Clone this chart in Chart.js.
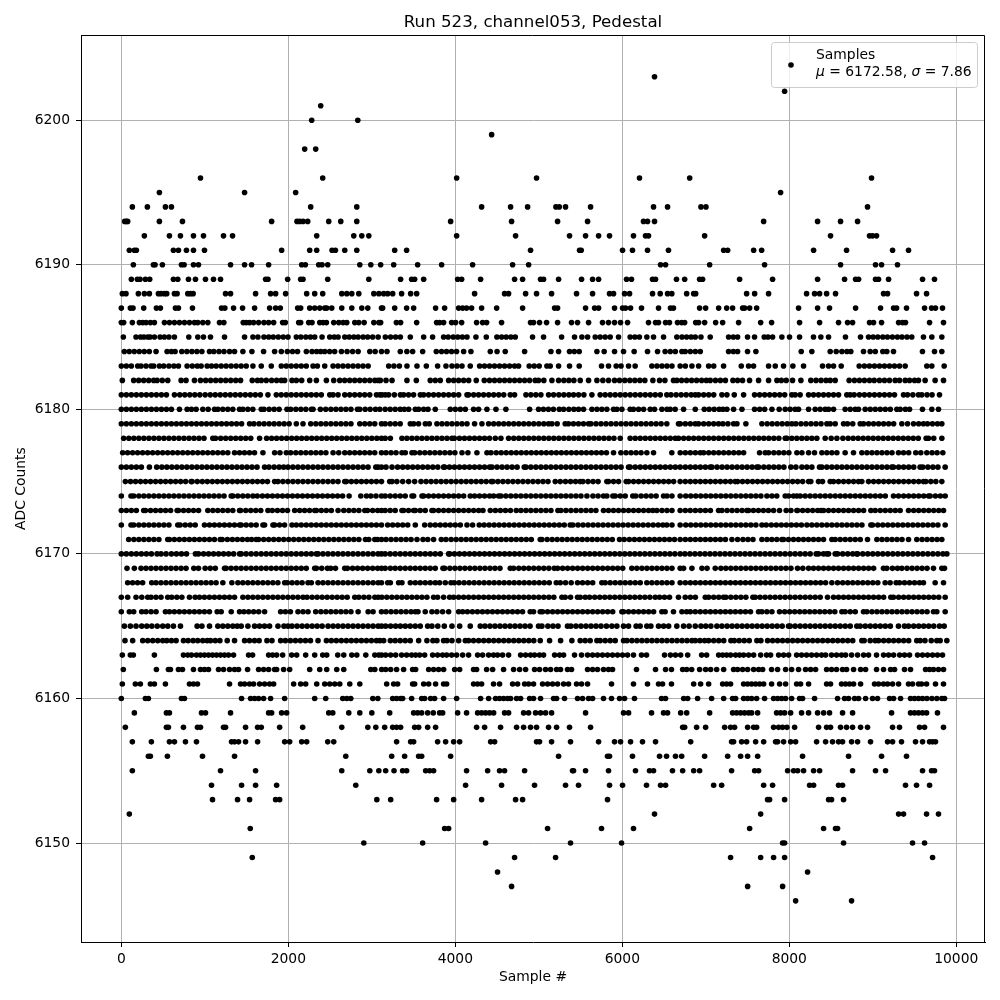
<!DOCTYPE html>
<html><head><meta charset="utf-8">
<style>html,body{margin:0;padding:0;background:#fff}canvas{display:block}</style>
<script src="https://cdn.jsdelivr.net/npm/chart.js@4/dist/chart.umd.min.js"></script>
</head><body><div style="width:1000px;height:1000px"><canvas id="c" width="1000" height="1000"></canvas></div>
<script>
const chartTitle="Run 523, channel053, Pedestal";
const xLabel="Sample #";
const yLabel="ADC Counts";
const xTicks=[0,2000,4000,6000,8000,10000];
const yTicks=[6150,6160,6170,6180,6190,6200];
const L6146=[8076,8746];
const L6147=[4674,7501,7920];
const L6148=[4506,8219];
const L6149=[1568,4710,5201,7297,7657,7812,7944,9716];
const L6150=[2904,3609,4363,5380,5991,7920,7944,8650,9476,9620];
const L6151=[1544,3872,3920,5105,5751,6134,7525,8411,8554,8578];
const L6152=[96,6386,7657,9309,9368,9644,9787];
const L6153=[1092,1392,1536,1848,1896,3060,3226,3776,3980,4315,4722,4806,5823,7740,7764,7944,8471,8506,8650];
const L6154=[1080,1440,1608,1860,2808,4123,4554,4949,5320,5476,5847,6003,6290,6458,6518,7094,7190,7693,7800,8243,8291,8590,8638,9392,9524,9680];
const L6155=[132,1188,1608,2640,2976,3084,3166,3266,3369,3417,3645,3693,3740,4135,4387,4530,4590,4830,5404,5416,5560,5835,6158,6326,6374,6601,6723,6855,6926,7309,7585,7633,7980,8052,8100,8171,8291,8363,8758,9033,9153,9596,9704,9739];
const L6156=[324,348,552,972,1356,2688,3238,3393,3561,3597,3944,5237,5823,5847,6122,6446,6530,6637,6711,6986,7262,7417,7501,7621,8159,8710,9105,9404];
const L6157=[132,360,576,636,768,900,1320,1356,1404,1488,1632,1956,2016,2160,2220,2472,2544,3297,3465,3501,3788,3884,3980,4052,4423,4471,4973,5009,5153,5380,5716,5907,5979,6099,6242,6398,6819,7309,7333,7429,7489,7597,7693,7836,7860,7932,8016,8076,8327,8435,8518,8590,8638,8746,8818,8973,9177,9237,9344,9512,9596,9680,9716,9751];
const L6158=[48,540,564,744,912,948,1224,1248,1488,1632,1676,1896,2172,2640,2952,3048,3154,3250,3297,3345,3513,3561,3669,3764,4255,4351,4542,4734,4818,4901,4973,5117,5213,5368,5620,6723,6747,6890,6998,7226,7297,7345,7501,7573,7609,7812,7872,7920,7972,8064,8351,8447,8494,8614,8686,8758,8854,8937,9237,9320,9560,9620,9847];
const L6159=[156,540,576,960,1008,1308,1764,1800,1920,1980,2484,2532,2724,2856,3000,3214,3501,3549,3597,3669,3736,3812,3848,4028,4135,4267,4315,4363,4411,4459,4590,4638,4818,4878,4961,5021,5081,5153,5560,6015,6075,6350,6494,6542,6699,6771,7046,7321,7369,7417,7465,7513,7549,7621,7848,7896,7944,8016,8147,8231,8339,8411,8482,8638,8758,9225,9452,9500,9548,9596,9644,9775];
const L6160=[0,288,324,720,756,1440,1548,1596,1644,1704,1788,1956,2316,2448,2652,2700,2748,3012,3072,3250,3297,3345,3369,3477,3597,3633,3704,3752,3860,4016,4303,4399,4482,4530,4578,4626,4662,4734,4782,4890,4937,5021,5177,5213,5308,5464,5524,5596,5644,5775,5871,5967,6027,6146,6470,6518,6735,6783,6902,7070,7214,7321,7357,7453,7501,7549,7609,7704,7812,7860,7908,7956,8028,8123,8159,8303,8578,8662,8710,8782,8830,8914,8997,9057,9201,9249,9333,9452,9500,9548,9596,9648,9708,9767,9827,9859];
const L6161=[12,168,228,348,396,528,816,864,912,1296,1428,1476,1536,1584,1656,1716,1776,1824,2064,2148,2208,2340,2436,2496,2556,2616,2736,2856,3178,3262,3309,3489,3513,3621,3681,3764,3860,3896,4219,4267,4315,4458,4530,4686,4746,4830,4878,4937,5045,5105,5165,5225,5297,5356,5452,5512,5584,5871,6134,6302,6434,6482,6589,6855,6938,7034,7202,7250,7297,7453,7501,7549,7597,7645,7693,7788,7884,7956,8088,8135,8231,8447,8494,8626,8674,8722,8770,8854,9021,9069,9129,9177,9237,9309,9428,9476,9548,9584,9644,9751,9847];
const L6162=[24,420,564,588,684,732,864,948,996,1044,1164,1224,1296,1356,1404,1512,1644,1704,1764,1836,1860,1944,2016,2256,2376,2460,2580,2664,2988,3036,3118,3166,3226,3297,3381,3489,3525,3681,3740,3800,3860,3992,4052,4219,4255,4375,4447,4578,4698,4770,4842,4949,5009,5081,5141,5213,5260,5344,5392,5584,5644,5703,5775,5835,5883,6170,6398,6518,6589,6723,6771,6831,6926,6998,7058,7130,7214,7333,7381,7441,7501,7573,7633,7681,7788,7860,7956,8028,8111,8195,8255,8315,8447,8506,8566,8638,8686,8770,8854,8914,9045,9129,9213,9261,9380,9452,9632,9680,9727,9787,9847];
const L6163=[12,108,144,396,744,796,840,900,948,996,1044,1092,1140,1188,1236,1284,1344,1524,1572,1764,1812,1860,1932,2040,2100,2208,2316,2412,2460,2592,2664,2760,2820,2928,3036,3084,3118,3166,3226,3286,3357,3417,3477,3525,3573,3633,3728,3788,3848,3896,3956,4016,4088,4159,4267,4327,4399,4458,4506,4566,4638,4782,4842,4901,4949,5009,5057,5189,5249,5297,5428,5512,5584,5644,5703,5763,5823,5883,5943,6003,6063,6134,6230,6290,6506,6577,6637,6699,6783,6950,7010,7154,7202,7250,7297,7357,7405,7453,7513,7573,7657,7728,7776,7872,7932,7992,8088,8147,8207,8267,8327,8387,8435,8506,8566,8626,8674,8746,8818,8890,8949,9045,9129,9189,9249,9321,9380,9440,9536,9596,9656,9716,9775,9835];
const L6164=[44,136,256,316,376,436,496,544,600,656,744,800,860,915,975,1028,1068,1125,1180,1268,1356,1476,1535,1595,1650,1744,1804,1908,1965,2025,2085,2145,2205,2265,2356,2456,2515,2575,2635,2695,2755,2815,2875,2935,2995,3056,3096,3142,3222,3280,3340,3400,3460,3561,3660,3732,3780,3860,3900,3960,4040,4120,4159,4218,4280,4340,4400,4460,4520,4580,4640,4700,4760,4820,4880,4940,5017,5129,5261,5396,5496,5555,5615,5696,5735,5795,5855,5915,6015,6055,6115,6175,6235,6295,6355,6415,6475,6535,6595,6655,6715,6775,6834,6874,6930,6986,7034,7095,7155,7215,7301,7341,7400,7460,7520,7612,7660,7740,7800,7860,7920,7980,8040,8100,8160,8220,8280,8340,8400,8460,8520,8580,8640,8700,8760,8869,8897,8969,9029,9069,9130,9190,9250,9310,9370,9430,9527,9567,9625,9700,9767,9807,9887];
const L6165=[36,108,176,244,305,365,430,496,556,624,708,908,965,1056,1156,1215,1275,1335,1388,1436,1516,1596,1655,1715,1775,1876,1948,1996,2044,2105,2165,2225,2285,2345,2405,2476,2536,2595,2655,2715,2775,2835,2895,2955,3015,3075,3116,3165,3225,3285,3342,3401,3460,3520,3580,3669,3720,3790,3868,3960,4052,4179,4299,4355,4415,4475,4535,4595,4655,4715,4775,4835,4895,4997,5037,5109,5170,5230,5344,5384,5445,5505,5565,5625,5685,5745,5810,5875,5935,6015,6075,6166,6214,6294,6342,6434,6495,6555,6653,6734,6800,6874,6942,7000,7061,7133,7193,7255,7315,7375,7435,7495,7555,7615,7675,7735,7795,7855,7915,7991,8011,8070,8130,8190,8250,8310,8370,8430,8490,8550,8610,8670,8730,8809,8849,8910,8970,9030,9090,9150,9210,9308,9380,9428,9490,9550,9610,9670,9730,9799,9855];
const L6166=[0,96,148,244,296,356,416,528,576,635,695,755,815,875,935,995,1055,1148,1196,1316,1416,1468,1525,1585,1645,1716,1908,1965,2025,2116,2176,2236,2328,2390,2450,2510,2570,2630,2690,2750,2836,2956,3015,3116,3170,3230,3290,3350,3410,3470,3521,3553,3640,3720,3780,3848,3920,4040,4088,4145,4205,4265,4325,4385,4445,4505,4565,4625,4685,4745,4805,4897,4937,5017,5045,5105,5165,5225,5285,5345,5405,5465,5525,5585,5645,5705,5765,5825,5885,5995,6015,6075,6135,6195,6255,6315,6375,6474,6513,6613,6714,6770,6814,6874,6934,6995,7055,7115,7175,7235,7295,7355,7415,7475,7535,7632,7672,7732,7792,7883,7945,8005,8065,8125,8185,8245,8305,8365,8425,8485,8545,8630,8669,8730,8790,8889,8929,8990,9050,9110,9170,9230,9290,9350,9410,9470,9530,9590,9650,9727,9767,9867];
const L6167=[0,76,176,245,316,356,415,475,556,604,665,725,816,884,936,995,1055,1115,1175,1235,1295,1356,1456,1516,1575,1635,1695,1755,1815,1875,1935,1995,2055,2115,2176,2224,2285,2345,2405,2465,2525,2585,2645,2705,2796,2844,2905,2965,3036,3076,3120,3180,3240,3300,3360,3420,3480,3540,3600,3660,3740,3788,3860,3932,3980,4040,4100,4160,4220,4280,4340,4400,4460,4520,4580,4640,4700,4760,4820,4880,4940,5000,5060,5120,5180,5277,5316,5380,5464,5496,5556,5608,5670,5730,5790,5850,5910,5970,6030,6090,6150,6210,6270,6330,6394,6446,6505,6565,6673,6754,6815,6875,6994,7034,7095,7155,7213,7241,7300,7360,7420,7480,7564,7592,7650,7710,7770,7830,7890,7950,8010,8070,8130,8190,8250,8310,8370,8458,8530,8590,8650,8710,8770,8830,8890,8950,9010,9070,9130,9216,9248,9310,9370,9430,9490,9550,9610,9670,9730,9790,9867];
const L6168=[76,135,195,255,364,416,475,535,595,655,715,775,835,895,955,1015,1075,1135,1216,1324,1396,1455,1515,1575,1635,1695,1755,1815,1875,1956,1988,2045,2105,2165,2236,2276,2356,2415,2475,2535,2595,2655,2715,2775,2835,2895,2955,3015,3075,3116,3190,3222,3321,3361,3461,3521,3580,3640,3700,3760,3812,3880,3948,3988,4045,4105,4165,4225,4285,4345,4405,4465,4525,4585,4645,4705,4765,4825,4885,4945,5005,5065,5125,5209,5257,5320,5388,5464,5524,5585,5645,5755,5795,5855,5915,5975,6035,6095,6155,6215,6294,6354,6415,6475,6535,6595,6693,6755,6815,6875,6935,6995,7055,7115,7175,7235,7295,7355,7415,7475,7535,7595,7655,7715,7775,7835,7895,7955,8015,8075,8135,8195,8255,8315,8375,8435,8510,8578,8640,8700,8760,8820,8880,8940,9000,9060,9148,9208,9280,9320,9380,9440,9500,9560,9607,9747,9847];
const L6169=[68,156,236,295,355,415,475,535,595,655,715,775,868,924,1004,1065,1125,1236,1256,1315,1375,1435,1495,1555,1615,1675,1735,1795,1855,1915,1975,2035,2095,2155,2215,2316,2336,2400,2468,2508,2565,2676,2708,2770,2830,2890,2950,3010,3070,3116,3160,3222,3280,3340,3400,3460,3520,3580,3640,3700,3760,3852,3872,3935,3995,4055,4115,4175,4235,4295,4355,4415,4475,4535,4658,4698,4760,4820,4880,4940,5000,5060,5120,5185,5225,5285,5345,5405,5465,5525,5585,5645,5705,5765,5825,5885,5945,6005,6114,6174,6235,6295,6355,6415,6475,6535,6595,6693,6734,6834,6954,7015,7113,7181,7240,7300,7360,7420,7480,7540,7600,7660,7720,7780,7840,7900,7960,8020,8099,8162,8231,8290,8350,8410,8470,8530,8590,8650,8710,8770,8830,8890,8950,9010,9128,9168,9235,9296,9348,9410,9470,9530,9590,9650,9727,9827,9859];
const L6170=[0,60,120,180,240,300,360,428,476,536,600,660,720,780,888,924,985,1045,1105,1165,1225,1285,1345,1416,1436,1495,1555,1615,1675,1735,1795,1855,1915,1975,2035,2095,2155,2215,2275,2336,2356,2415,2475,2535,2595,2655,2715,2775,2835,2895,2955,3015,3075,3116,3160,3220,3280,3340,3400,3460,3520,3580,3640,3700,3760,3820,3920,3932,3990,4050,4110,4170,4230,4290,4350,4410,4470,4530,4590,4650,4710,4770,4830,4890,4950,5010,5070,5130,5190,5250,5310,5370,5430,5490,5550,5610,5670,5730,5790,5850,5910,5970,6030,6090,6150,6210,6270,6330,6390,6450,6510,6570,6630,6693,6750,6810,6870,6930,6990,7050,7110,7170,7230,7290,7350,7410,7470,7530,7590,7650,7710,7770,7830,7890,7950,8010,8070,8130,8190,8250,8322,8350,8410,8450,8470,8550,8578,8640,8700,8760,8809,8817,8880,8940,9000,9060,9120,9180,9240,9300,9360,9420,9480,9540,9600,9660,9720,9780,9840,9887];
const L6171=[88,150,210,270,330,390,450,556,576,635,695,755,815,875,935,995,1055,1115,1184,1208,1270,1330,1390,1450,1510,1560,1616,1644,1705,1765,1825,1885,1945,2005,2065,2125,2185,2245,2305,2365,2425,2485,2545,2605,2665,2725,2785,2845,2924,2964,3036,3068,3116,3170,3230,3290,3350,3410,3470,3541,3613,3670,3740,3832,3888,3950,4010,4070,4130,4190,4250,4310,4370,4430,4490,4550,4610,4670,4730,4790,4850,4910,5017,5037,5100,5160,5220,5280,5340,5400,5460,5520,5580,5640,5700,5760,5820,5880,5967,6023,6085,6145,6205,6265,6325,6385,6445,6505,6565,6625,6693,6755,6815,6875,6935,6995,7055,7115,7175,7235,7313,7381,7445,7505,7565,7672,7732,7790,7850,7911,7931,7990,8050,8110,8170,8230,8290,8350,8410,8510,8550,8610,8670,8730,8790,8850,8937,9049,9110,9170,9230,9290,9350,9428,9527,9590,9650,9710,9770,9827];
const L6172=[0,116,148,210,270,330,390,450,510,570,676,704,765,825,885,996,1056,1115,1175,1235,1295,1355,1416,1436,1495,1555,1615,1696,1716,1816,1836,1895,1955,2044,2096,2155,2215,2275,2335,2395,2455,2515,2575,2635,2695,2755,2815,2875,2935,2995,3055,3116,3190,3250,3310,3370,3430,3521,3633,3700,3760,3820,3880,3940,4000,4060,4140,4207,4287,4345,4405,4465,4525,4585,4645,4705,4765,4825,4885,4945,5005,5065,5125,5185,5245,5305,5376,5408,5470,5530,5590,5650,5710,5770,5830,5890,5950,6010,6070,6130,6190,6250,6310,6370,6430,6486,6533,6595,6693,6760,6820,6880,6940,7000,7060,7120,7180,7240,7300,7360,7420,7480,7540,7600,7672,7724,7785,7845,7905,7965,8025,8085,8145,8211,8270,8330,8390,8450,8510,8570,8630,8690,8750,8810,8870,8977,8997,9060,9120,9180,9240,9300,9360,9420,9480,9540,9600,9660,9720,9780,9867];
const L6173=[0,60,120,180,268,288,350,410,470,530,590,668,684,745,805,865,925,1036,1096,1155,1215,1275,1335,1416,1428,1490,1550,1610,1670,1756,1808,1870,1930,1990,2076,2136,2195,2255,2316,2336,2395,2455,2515,2596,2664,2725,2785,2845,2916,2948,3010,3070,3116,3160,3220,3280,3361,3381,3440,3501,3521,3580,3640,3720,3740,3800,3860,3920,3980,4040,4100,4160,4220,4280,4331,4419,4480,4540,4600,4660,4730,4786,4846,4905,4965,5025,5085,5145,5229,5265,5325,5385,5445,5505,5565,5625,5684,5775,5835,5895,5955,6015,6075,6135,6195,6255,6315,6366,6414,6475,6535,6595,6693,6755,6814,6875,6935,6995,7055,7153,7193,7255,7315,7375,7435,7493,7512,7570,7630,7690,7750,7812,7883,7963,8020,8091,8099,8160,8220,8280,8340,8382,8410,8470,8530,8590,8650,8710,8770,8830,8890,8977,9029,9090,9150,9210,9270,9328,9428,9490,9550,9610,9670,9730,9790,9847];
const L6174=[0,116,148,210,270,330,390,450,510,570,630,690,750,810,870,930,990,1050,1110,1170,1230,1316,1336,1395,1455,1515,1576,1628,1690,1750,1810,1870,1930,1990,2050,2110,2170,2230,2290,2350,2410,2470,2530,2590,2650,2728,2868,2936,2988,3050,3116,3160,3220,3280,3340,3400,3481,3501,3601,3621,3680,3740,3800,3860,3920,3980,4040,4100,4179,4231,4290,4350,4411,4459,4518,4546,4605,4665,4725,4785,4845,4905,4965,5025,5085,5145,5205,5265,5325,5385,5445,5505,5576,5648,5710,5775,5815,5887,5915,5975,6035,6126,6162,6225,6285,6345,6405,6494,6535,6595,6693,6760,6820,6880,6940,7000,7060,7120,7180,7240,7300,7360,7420,7480,7540,7600,7660,7732,7792,7850,7951,7991,8050,8091,8131,8190,8250,8310,8370,8430,8490,8550,8610,8670,8730,8790,8850,8910,8970,9030,9090,9150,9248,9308,9370,9430,9490,9550,9610,9667,9687,9750,9810,9867];
const L6175=[48,110,170,230,290,350,410,470,530,590,650,710,770,836,848,910,970,1030,1090,1150,1210,1270,1330,1390,1450,1510,1570,1630,1690,1750,1836,1876,1935,1995,2055,2115,2175,2235,2295,2355,2415,2475,2535,2595,2676,2696,2755,2815,2875,2935,2995,3055,3116,3214,3242,3300,3370,3441,3513,3589,3650,3710,3770,3830,3890,3950,4010,4070,4130,4190,4250,4310,4370,4431,4451,4510,4570,4630,4690,4750,4810,4870,4930,4990,5050,5110,5197,5257,5320,5380,5440,5496,5528,5590,5650,5710,5815,5835,5895,5955,6047,6075,6135,6195,6255,6315,6375,6435,6495,6555,6615,6693,6755,6815,6875,6935,6995,7055,7115,7175,7235,7295,7353,7381,7440,7500,7560,7620,7680,7740,7800,7860,7920,7980,8040,8100,8160,8231,8258,8350,8398,8490,8530,8590,8650,8710,8770,8829,8869,8949,9010,9070,9130,9190,9250,9310,9370,9430,9490,9550,9607,9635,9695,9755,9827];
const L6176=[0,60,120,180,240,336,424,485,545,605,665,725,785,845,905,965,1025,1085,1145,1205,1265,1325,1385,1445,1505,1565,1625,1716,1768,1830,1890,1944,1996,2055,2115,2175,2235,2295,2355,2415,2475,2535,2595,2655,2715,2775,2835,2895,2955,3048,3076,3116,3170,3242,3309,3370,3430,3490,3550,3610,3670,3730,3790,3860,3872,3930,3990,4050,4110,4170,4230,4290,4350,4411,4439,4500,4560,4620,4680,4740,4826,4846,4905,4965,5025,5085,5145,5205,5265,5325,5385,5445,5505,5565,5625,5685,5745,5805,5865,5925,5985,6075,6094,6155,6215,6275,6335,6395,6455,6515,6575,6635,6693,6755,6815,6875,6935,6995,7053,7073,7135,7195,7255,7315,7375,7435,7495,7555,7612,7632,7695,7755,7815,7875,7935,8019,8079,8151,8210,8270,8362,8390,8450,8510,8570,8630,8690,8750,8810,8870,8930,8990,9050,9110,9170,9228,9248,9310,9370,9430,9490,9567,9599,9660,9720,9780,9867];
const L6177=[16,75,135,195,255,315,375,435,495,555,615,675,735,795,855,915,975,1035,1095,1155,1215,1275,1356,1416,1475,1535,1595,1696,1836,1900,1976,2028,2090,2150,2210,2270,2330,2390,2450,2536,2604,2676,2735,2795,2855,2915,2975,3035,3116,3170,3230,3290,3361,3401,3481,3513,3575,3635,3695,3755,3815,3875,3935,3995,4080,4151,4259,4379,4427,4490,4550,4610,4670,4730,4790,4850,4910,4970,5030,5090,5150,5210,5270,5330,5390,5450,5510,5570,5630,5690,5750,5810,5895,5983,6045,6105,6165,6225,6294,6374,6593,6694,6755,6815,6875,6934,6974,7035,7095,7155,7215,7275,7335,7395,7453,7644,7712,7752,7815,7875,7935,7995,8091,8151,8231,8302,8390,8450,8510,8570,8669,8769,8869,8930,8990,9050,9110,9170,9230,9308,9368,9430,9515,9575,9647,9710,9770,9839];
const L6178=[28,90,150,210,270,330,390,450,510,570,630,690,750,810,870,930,990,1096,1128,1190,1250,1310,1370,1430,1490,1550,1656,1740,1800,1860,1920,1980,2040,2100,2160,2220,2280,2340,2400,2460,2520,2580,2640,2700,2760,2820,2880,2940,3000,3060,3116,3160,3222,3361,3420,3480,3540,3600,3660,3720,3780,3840,3900,3960,3988,4050,4110,4170,4230,4290,4350,4410,4479,4546,4638,4700,4760,4820,4880,4940,5000,5060,5120,5180,5240,5300,5360,5420,5480,5540,5600,5660,5720,5780,5840,5900,5975,6094,6155,6215,6275,6335,6395,6455,6515,6575,6635,6674,6735,6795,6855,6915,6975,7035,7095,7155,7215,7275,7335,7395,7455,7515,7575,7635,7695,7755,7815,7875,7951,7971,8030,8090,8150,8210,8270,8330,8430,8502,8570,8642,8705,8765,8825,8885,8945,9005,9065,9125,9185,9245,9305,9365,9425,9485,9545,9639,9667,9730,9827];
const L6179=[0,60,120,180,240,300,360,420,480,540,600,660,720,780,840,900,960,1020,1080,1140,1200,1260,1320,1380,1440,1536,1588,1650,1710,1770,1830,1890,1950,2010,2096,2176,2268,2330,2390,2450,2510,2570,2630,2690,2750,2856,2916,2975,3035,3116,3160,3220,3280,3340,3461,3501,3560,3641,3688,3780,3840,3900,3960,4020,4080,4140,4231,4319,4399,4460,4520,4580,4640,4700,4760,4820,4880,4940,5000,5060,5117,5157,5220,5316,5356,5415,5475,5535,5596,5624,5685,5745,5805,5865,5925,5985,6045,6105,6165,6225,6285,6345,6405,6465,6533,6673,6694,6755,6815,6874,6914,6975,7035,7095,7153,7205,7265,7333,7373,7480,7672,7735,7795,7855,7915,7975,8031,8079,8140,8200,8260,8320,8380,8450,8490,8550,8650,8697,8760,8849,8889,8950,9010,9070,9130,9190,9250,9348,9416,9488,9550,9607,9655,9715,9775,9827];
const L6180=[0,60,120,180,240,300,360,420,480,540,600,696,788,840,896,976,1040,1116,1156,1215,1275,1335,1416,1456,1515,1575,1676,1708,1770,1830,1890,1984,2028,2090,2150,2210,2276,2296,2384,2448,2510,2570,2630,2690,2750,2828,2856,2920,2980,3044,3096,3160,3220,3280,3340,3389,3441,3521,3561,3621,3673,3760,3940,4000,4060,4120,4219,4279,4379,4487,4606,4890,4997,5055,5115,5175,5245,5297,5360,5420,5476,5536,5636,5696,5755,5815,5895,5935,5995,6094,6134,6195,6255,6334,6386,6474,6535,6573,6633,6734,6874,6982,7040,7100,7160,7205,7253,7333,7433,7584,7645,7705,7792,7879,7951,8010,8070,8111,8231,8310,8370,8430,8470,8530,8669,8730,8790,8829,8909,8970,9030,9090,9150,9210,9288,9328,9390,9440,9595,9707,9787];
const L6181=[0,60,120,180,240,300,360,420,480,540,636,700,760,820,880,940,1004,1065,1125,1185,1245,1305,1365,1425,1485,1545,1605,1665,1756,1856,1915,1975,2035,2095,2155,2215,2275,2335,2395,2496,2536,2596,2676,2735,2795,2855,2915,2975,3056,3096,3122,3162,3202,3270,3342,3381,3440,3500,3581,3621,3680,3740,3800,3860,3920,3980,4040,4140,4159,4220,4279,4339,4400,4460,4520,4580,4658,4710,4846,4905,4965,5025,5117,5177,5240,5300,5360,5416,5476,5540,5636,5735,5795,5855,5915,5975,6035,6095,6155,6215,6275,6335,6395,6455,6533,6583,6645,6705,6765,6825,6874,6914,6975,7035,7095,7193,7253,7341,7453,7584,7645,7705,7765,7825,7885,7945,8031,8071,8130,8231,8290,8350,8410,8470,8530,8590,8689,8729,8777,8840,8900,8960,9020,9080,9140,9200,9260,9368,9416,9480,9547,9587,9650,9710,9799];
const L6182=[12,148,208,268,328,388,428,490,556,716,775,876,948,1010,1070,1130,1190,1250,1310,1370,1428,1568,1630,1676,1736,1800,1860,1916,1956,2044,2096,2160,2256,2336,2456,2544,2616,2675,2735,2795,2855,2915,2975,3036,3076,3102,3170,3242,3421,3533,3700,3760,3820,3920,3980,4040,4100,4160,4251,4347,4410,4470,4530,4590,4650,4710,4770,4830,4890,4957,4997,5060,5157,5237,5300,5360,5420,5496,5596,5696,5767,5835,5907,5967,6030,6090,6150,6210,6270,6366,6446,6510,6613,6653,6710,6770,6830,6890,6950,7006,7053,7115,7175,7235,7325,7381,7440,7524,7632,7752,7852,7905,7963,8039,8139,8258,8320,8380,8440,8490,8550,8717,8780,8840,8900,8961,9017,9080,9140,9200,9268,9320,9388,9440,9500,9547,9627,9747,9847];
const L6183=[0,60,120,196,236,296,356,388,456,508,570,630,684,788,850,910,956,1028,1080,1136,1196,1255,1315,1375,1435,1496,1576,1676,1796,1916,1975,2035,2095,2155,2215,2296,2348,2436,2536,2595,2655,2715,2775,2835,2895,2956,3202,3265,3330,3421,3541,3653,3788,3888,3960,4020,4080,4179,4291,4350,4410,4470,4530,4590,4650,4710,4758,4885,4945,5005,5097,5137,5237,5368,5484,5751,5835,5927,5985,6075,6154,6354,6415,6475,6535,6595,6693,6755,6834,6914,7034,7095,7213,7425,7512,7572,7752,7832,7931,8043,8171,8398,8470,8530,8622,8837,8900,8960,9020,9080,9140,9200,9260,9320,9388,9647,9707,9855];
const L6184=[36,95,155,215,275,335,416,548,600,644,724,785,845,905,965,1056,1108,1170,1230,1296,1356,1456,1564,1704,1836,1916,1988,2050,2110,2216,2284,2340,2388,2436,2495,2555,2636,2704,2770,2836,2976,3040,3116,3182,3341,3420,3489,3609,3772,3835,3895,3955,4015,4100,4187,4419,4500,4598,4830,5145,5237,5368,5425,5484,5696,5783,5907,6015,6142,6302,6422,6513,6575,6635,6714,6754,6815,6875,6934,7273,7330,7381,7500,7600,8143,8270,8490,8562,8630,8690,8737,8889,8969,9030,9120,9168,9248,9595,9739,9827];
const L6185=[24,176,230,270,316,344,396,464,515,570,636,808,916,984,1068,1236,1476,1576,1636,1708,1765,1820,1880,1940,1996,2096,2150,2210,2265,2316,2404,2496,2550,2596,2676,2730,2785,2836,2896,2950,3010,3076,3162,3225,3285,3342,3461,3621,3728,3860,3915,3975,4030,4085,4140,4247,4371,4498,4555,4610,4665,4718,4925,5057,5273,5428,5516,5584,5676,5735,5795,5855,5955,6094,6150,6205,6294,6374,6494,6653,6715,6770,6825,6874,6942,7053,7273,7330,7381,7500,7584,7700,7745,7800,7911,8003,8123,8290,8378,8470,8673,8853,8949,9005,9060,9120,9175,9235,9295,9350,9410,9467,9607,9707,9827];
const L6186=[0,28,132,216,256,296,348,396,516,576,636,696,756,816,876,916,976,1036,1176,1228,1460,1496,1536,1584,1644,1708,1764,1824,1932,1964,2124,2148,2244,2284,2376,2416,2456,2544,2604,2656,2700,2796,2844,2908,3024,3084,3106,3294,3345,3537,3776,3812,3860,3956,4004,4076,4255,4327,4375,4554,4901,4937,5009,5093,5225,5392,5464,5596,5763,5835,5907,5979,6063,6314,6398,6434,6518,6565,6661,6711,6747,6879,6914,6986,7118,7202,7393,7657,7788,8123,8363,8590,8698,8758,8961,9009,9105,9309,9356,9392,9680,9847];
const L6187=[0,108,140,268,420,468,648,684,852,1200,1240,1344,1452,1596,1776,1848,1904,2112,2148,2256,2316,2376,2436,2460,2520,2640,2760,2880,2952,3116,3130,3274,3417,3501,3764,3872,4040,4088,4135,4195,4315,4495,4806,5189,5225,5560,5668,5716,5907,6003,6039,6099,6230,6434,6577,6613,6926,6998,7154,7250,7321,7441,7465,7525,7609,8111,8339,8482,8794,9093,9249,9285,9404,9620,9704,9751,9835];
const L6188=[12,56,204,276,336,444,476,516,544,636,668,796,828,860,1248,1308,1608,1788,1848,1968,2220,2316,2412,2640,2700,2760,2844,3024,3084,3142,3190,3250,3357,3465,3537,4231,4590,4638,4842,4973,5153,5452,5644,5847,5895,6027,6087,6362,6454,6542,6593,6771,6855,6879,7489,7585,7752,8207,8303,8363,8447,8554,9129,9177,9524,9644];
const L6189=[120,192,224,288,340,624,676,804,888,1008,1104,1188,1728,1756,1992,2148,2176,2472,2964,3345,3477,3513,3621,4028,4076,4303,4710,4806,5021,5057,5237,5512,5644,5716,6051,6110,6362,6398,6649,6747,6926,6962,7405,7800,8339,8662,8794,8830,9033,9069,9189,9596,9739];
const L6190=[144,384,404,492,720,752,864,924,1308,1476,1560,1764,2160,2204,2364,2404,2472,2856,2988,3106,3262,3549,3836,4207,4686,4878,6458,6518,7046,7704,8614,9033,9105,9296];
const L6191=[96,156,180,624,684,780,864,996,1920,2256,2340,2524,2564,2676,2820,3274,3417,4901,5488,5508,6003,6122,6302,6553,7214,7262,7573,7669,8291,8686,9237,9428];
const L6192=[276,576,708,864,984,1224,1332,2340,2784,2880,2964,4016,4722,5368,5560,5716,5847,6134,6278,6314,6986,8494,8961,8997,9045];
const L6193=[40,60,76,456,732,1800,2104,2136,2176,2232,2484,2628,2820,3944,4674,5225,5584,6254,6302,6386,7693,8339,8614,8818];
const L6194=[132,312,528,600,2268,2820,4315,4662,4866,5205,5245,5320,5620,6374,6542,6942,7002,8937];
const L6195=[456,1476,2088,7896];
const L6196=[948,2412,4016,4973,6206,6807,8985];
const L6198=[2196,2328];
const L6199=[4435];
const L6200=[2280,2832];
const L6201=[2388];
const L6202=[7944];
const L6203=[6386];
const adcLevels=[6146,6147,6148,6149,6150,6151,6152,6153,6154,6155,6156,6157,6158,6159,6160,6161,6162,6163,6164,6165,6166,6167,6168,6169,6170,6171,6172,6173,6174,6175,6176,6177,6178,6179,6180,6181,6182,6183,6184,6185,6186,6187,6188,6189,6190,6191,6192,6193,6194,6195,6196,6198,6199,6200,6201,6202,6203];
const sampleLists=[L6146,L6147,L6148,L6149,L6150,L6151,L6152,L6153,L6154,L6155,L6156,L6157,L6158,L6159,L6160,L6161,L6162,L6163,L6164,L6165,L6166,L6167,L6168,L6169,L6170,L6171,L6172,L6173,L6174,L6175,L6176,L6177,L6178,L6179,L6180,L6181,L6182,L6183,L6184,L6185,L6186,L6187,L6188,L6189,L6190,L6191,L6192,L6193,L6194,L6195,L6196,L6198,L6199,L6200,L6201,L6202,L6203];
const points=[];
adcLevels.forEach((v,i)=>sampleLists[i].forEach(s=>points.push({x:s,y:v})));

const FONT='"DejaVu Sans"';
const framePlugin={id:'frame',afterDatasetsDraw(ch){
  const a=ch.chartArea,g=ch.ctx;
  g.save();g.strokeStyle='#000';g.lineWidth=1;g.beginPath();
  const t=Math.floor(a.top)+.5,r=Math.round(a.right)-.5;
  g.moveTo(a.left,t);g.lineTo(r,t);g.lineTo(r,a.bottom);g.stroke();g.restore();
}};
const legendPlugin={id:'mplLegend',afterDraw(ch){
  const g=ch.ctx;g.save();
  g.beginPath();g.roundRect(771.5,42.5,206,45,3);
  g.fillStyle='rgba(255,255,255,0.8)';g.fill();
  g.strokeStyle='#cccccc';g.lineWidth=1;g.stroke();
  g.fillStyle='#000';g.beginPath();g.arc(791,65,2.8,0,7);g.fill();
  g.textBaseline='alphabetic';
  g.font='13.89px '+FONT;g.fillText('Samples',816,59);
  let x=816;const y=76;
  const put=(t,it)=>{g.font=(it?'italic ':'')+'13.89px '+FONT;g.fillText(t,x,y);x+=g.measureText(t).width;};
  put('\u03bc',true);put(' = 6172.58, ',false);put('\u03c3',true);put(' = 7.86',false);
  g.restore();
}};
new Chart(document.getElementById('c'),{
  type:'scatter',
  data:{datasets:[{label:'Samples',data:points,backgroundColor:'#000',borderColor:'#000',pointRadius:2.8,pointBorderWidth:0,pointHoverRadius:2.8}]},
  plugins:[framePlugin,legendPlugin],
  options:{
    responsive:false,animation:false,
    layout:{padding:{left:0,right:15,top:0,bottom:0}},
    plugins:{
      legend:{display:false},tooltip:{enabled:false},
      title:{display:true,text:chartTitle,fullSize:false,color:'#000',font:{family:FONT,size:16.67,weight:'normal',lineHeight:1},padding:{top:13.9,bottom:4.6}}
    },
    scales:{
      x:{type:'linear',position:'bottom',min:-483,max:10344,
        afterFit(s){s.height=58;},
        afterBuildTicks(s){s.ticks=xTicks.map(v=>({value:v}));},
        grid:{color:'#b0b0b0',lineWidth:1,tickColor:'#000',tickLength:5,drawTicks:true},
        border:{color:'#000',width:1},
        ticks:{color:'#000',maxRotation:0,autoSkip:false,padding:4,font:{family:FONT,size:13.89},callback:v=>String(v)},
        title:{display:true,text:xLabel,color:'#000',font:{family:FONT,size:13.89,lineHeight:1.2},padding:{top:0,bottom:14}}
      },
      y:{type:'linear',min:6143.154,max:6205.88,
        afterFit(s){s.width=81;},
        afterBuildTicks(s){s.ticks=yTicks.map(v=>({value:v}));},
        grid:{color:'#b0b0b0',lineWidth:1,tickColor:'#000',tickLength:5,drawTicks:true},
        border:{color:'#000',width:1},
        ticks:{color:'#000',autoSkip:false,padding:6,font:{family:FONT,size:13.89},callback:v=>String(v)},
        title:{display:true,text:yLabel,color:'#000',font:{family:FONT,size:13.89,lineHeight:1.2},padding:{top:13,bottom:13}}
      }
    }
  }
});
</script></body></html>
